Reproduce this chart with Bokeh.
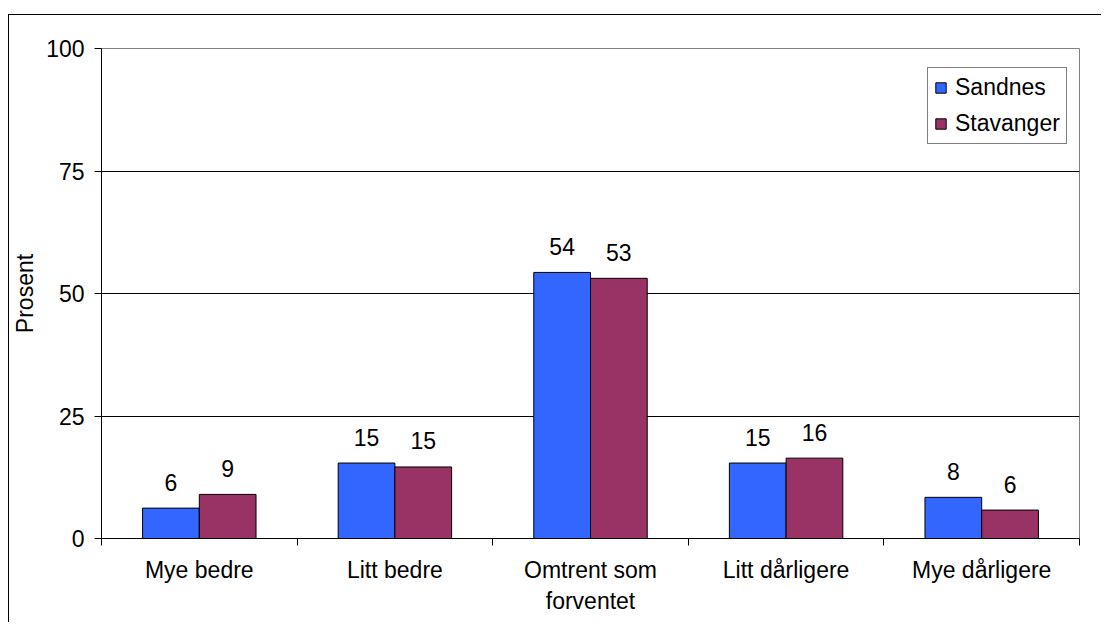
from bokeh.plotting import figure
from bokeh.models import (ColumnDataSource, Range1d, FixedTicker, Legend, LegendItem)
from bokeh.core.properties import value
from bokeh.embed import file_html
from bokeh.resources import INLINE

categories = ["Mye bedre", "Litt bedre", "Omtrent som\nforventet", "Litt dårligere", "Mye dårligere"]
series_names = ["Sandnes", "Stavanger"]
sandnes = [6.2, 15.4, 54.3, 15.4, 8.4]
stavanger = [9.0, 14.6, 53.1, 16.4, 5.8]
colors = ["#3366FF", "#993366"]
y_ticks = [0, 25, 50, 75, 100]

FONT = "Liberation Sans"
FS = "23px"

centers = [i + 0.5 for i in range(len(categories))]
bar_w = 0.29

p = figure(width=1093, height=608, output_backend="svg", toolbar_location=None,
           x_range=Range1d(0, len(categories)), y_range=Range1d(0, 100),
           min_border_left=90, min_border_right=23, min_border_top=33, min_border_bottom=85,
           margin=(14, 0, 0, 8),
           styles={"border-top": "1px solid black", "border-left": "1px solid black"})
p.background_fill_color = "white"
p.border_fill_color = "white"
p.outline_line_color = "#808080"
p.outline_line_width = 1

renderers = []
for k, (vals, col) in enumerate(zip([sandnes, stavanger], colors)):
    off = (k - 0.5) * bar_w
    src = ColumnDataSource(dict(x=[c + off for c in centers], top=vals,
                                lab=[f"{v:.0f}" for v in vals]))
    r = p.vbar(x="x", top="top", width=bar_w, bottom=0, source=src,
               fill_color=col, line_color="black", line_width=1)
    renderers.append(r)
    p.text(x="x", y="top", text="lab", source=src, text_align="center",
           text_baseline="alphabetic", y_offset=-26, text_font=value(FONT),
           text_font_size=FS, text_color="black")

# x axis: labels at centers, ticks at boundaries
xa = p.xaxis[0]
xa.ticker = FixedTicker(ticks=centers, minor_ticks=list(range(len(categories) + 1)))
xa.major_label_overrides = {c: lab for c, lab in zip(centers, categories)}
xa.major_tick_line_color = None
xa.major_tick_out = 7
xa.major_tick_in = 0
xa.minor_tick_out = 7
xa.minor_tick_in = 0
xa.minor_tick_line_color = "black"
xa.axis_line_color = "black"
xa.major_label_text_font = FONT
xa.major_label_text_font_size = FS
xa.major_label_text_color = "black"
xa.major_label_standoff = 11

ya = p.yaxis[0]
ya.ticker = FixedTicker(ticks=y_ticks, minor_ticks=[])
ya.major_tick_out = 7
ya.major_tick_in = 0
ya.major_tick_line_color = "black"
ya.axis_line_color = "black"
ya.major_label_text_font = FONT
ya.major_label_text_font_size = FS
ya.major_label_text_color = "black"
ya.major_label_standoff = 10
ya.axis_label = "Prosent"
ya.axis_label_text_font = FONT
ya.axis_label_text_font_size = FS
ya.axis_label_text_font_style = "normal"
ya.axis_label_text_color = "black"
ya.axis_label_standoff = 5

p.xgrid.visible = False
p.ygrid.ticker = FixedTicker(ticks=[25, 50, 75])
p.ygrid.grid_line_color = "black"
p.ygrid.grid_line_width = 1

legend = Legend(items=[LegendItem(label=n, renderers=[r]) for n, r in zip(series_names, renderers)],
                location=(826, 394))
legend.label_text_font = FONT
legend.label_text_font_size = FS
legend.label_text_color = "black"
legend.glyph_width = 13
legend.glyph_height = 13
legend.label_height = 25
legend.label_standoff = 8
legend.spacing = 9
legend.padding = 6
legend.margin = 0
legend.border_line_color = "black"
legend.border_line_width = 1
legend.background_fill_color = "white"
legend.background_fill_alpha = 1
p.add_layout(legend)

open("out.html", "w").write(file_html(p, INLINE))
